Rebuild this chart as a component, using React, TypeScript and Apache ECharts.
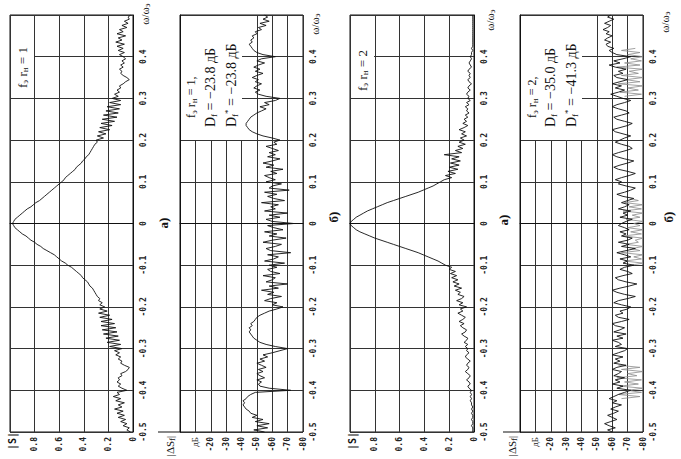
import React, { useEffect, useRef } from "react";
import * as echarts from "echarts";

// frequency grid ω/ωэ from -0.5 to 0.5, step 0.005 (201 samples)
const OMEGA_STEP = 0.005;
const OMEGA: number[] = Array.from({ length: 201 }, (_, i) => Math.round((-0.5 + i * OMEGA_STEP) * 1000) / 1000);

// а) |S|, fэ rн = 1
const S_R1: number[] = [
  0.02, 0.05, 0.03, 0.08, 0.05, 0.10, 0.06, 0.12, 0.07, 0.13, 0.08, 0.15, 0.09, 0.12, 0.07, 0.14, 0.10, 0.16, 0.11, 0.13,
  0.05, 0.09, 0.12, 0.10, 0.13, 0.11, 0.12, 0.09, 0.10, 0.06, 0.04, 0.03, 0.07, 0.10, 0.09, 0.12, 0.10, 0.14, 0.11, 0.15,
  0.09, 0.19, 0.10, 0.21, 0.11, 0.22, 0.12, 0.24, 0.13, 0.25, 0.14, 0.26, 0.15, 0.26, 0.17, 0.27, 0.19, 0.28, 0.21, 0.27,
  0.23, 0.27, 0.25, 0.28, 0.27, 0.29, 0.30, 0.31, 0.32, 0.33, 0.35, 0.36, 0.37, 0.39, 0.41, 0.42, 0.44, 0.46, 0.48, 0.50,
  0.53, 0.55, 0.58, 0.60, 0.62, 0.64, 0.67, 0.70, 0.73, 0.75, 0.78, 0.80, 0.83, 0.85, 0.87, 0.90, 0.92, 0.94, 0.96, 0.97,
  0.98,
  0.97, 0.96, 0.94, 0.92, 0.90, 0.88, 0.86, 0.83, 0.81, 0.79, 0.76, 0.74, 0.72, 0.70, 0.68, 0.66, 0.64, 0.62, 0.60, 0.58,
  0.56, 0.55, 0.53, 0.51, 0.49, 0.47, 0.46, 0.44, 0.42, 0.41, 0.39, 0.38, 0.36, 0.35, 0.34, 0.33, 0.32, 0.31, 0.29, 0.30,
  0.24, 0.29, 0.22, 0.28, 0.19, 0.27, 0.17, 0.26, 0.15, 0.25, 0.13, 0.24, 0.12, 0.22, 0.11, 0.21, 0.10, 0.19, 0.10, 0.17,
  0.12, 0.15, 0.11, 0.13, 0.10, 0.11, 0.08, 0.06, 0.03, 0.05, 0.08, 0.10, 0.09, 0.11, 0.08, 0.10, 0.07, 0.09, 0.06, 0.08,
  0.11, 0.07, 0.12, 0.08, 0.13, 0.07, 0.14, 0.09, 0.12, 0.06, 0.13, 0.08, 0.11, 0.05, 0.09, 0.04, 0.07, 0.03, 0.04, 0.02,
];

// б) |ΔS| dB, fэ rн = 1
const DB_R1: number[] = [
  -55, -48, -57, -50, -58, -49, -54, -47, -50, -46, -45, -43, -42, -41, -42, -41, -43, -44, -46, -49,
  -72, -58, -52, -51, -53, -50, -55, -52, -50, -54, -51, -56, -53, -50, -55, -52, -57, -54, -60, -65,
  -70, -62, -56, -52, -50, -48, -47, -46, -45, -46, -45, -47, -46, -48, -49, -50, -52, -55, -58, -63,
  -67, -60, -63, -55, -59, -66, -57, -61, -53, -64, -58, -70, -56, -60, -62, -54, -65, -59, -57, -63,
  -58, -68, -55, -61, -64, -57, -72, -59, -56, -62, -66, -54, -60, -69, -58, -63, -55, -67, -61, -57,
  -74,
  -60, -56, -65, -58, -70, -55, -62, -59, -64, -53, -68, -61, -57, -63, -55, -71, -58, -60, -66, -56,
  -62, -58, -55, -63, -59, -67, -56, -61, -54, -60, -65, -57, -62, -58, -64, -60, -56, -63, -61, -65,
  -60, -54, -50, -47, -45, -44, -43, -43, -44, -45, -46, -48, -50, -53, -56, -52, -58, -55, -62, -65,
  -56, -51, -49, -52, -48, -50, -53, -49, -51, -47, -50, -54, -49, -52, -48, -51, -55, -50, -53, -62,
  -54, -50, -48, -47, -46, -45, -47, -46, -48, -47, -50, -49, -53, -51, -56, -52, -58, -54, -57, -55,
];

// а) |S|, fэ rн = 2
const S_R2: number[] = [
  0.01, 0.01, 0.01, 0.02, 0.01, 0.01, 0.02, 0.01, 0.01, 0.02, 0.01, 0.02, 0.01, 0.02, 0.02, 0.03, 0.02, 0.03, 0.02, 0.03,
  0.02, 0.04, 0.05, 0.03, 0.04, 0.06, 0.04, 0.03, 0.05, 0.07, 0.05, 0.04, 0.06, 0.05, 0.03, 0.05, 0.07, 0.06, 0.04, 0.06,
  0.05, 0.07, 0.05, 0.08, 0.06, 0.05, 0.08, 0.10, 0.07, 0.06, 0.09, 0.11, 0.08, 0.12, 0.09, 0.07, 0.10, 0.13, 0.09, 0.11,
  0.06, 0.12, 0.09, 0.14, 0.10, 0.08, 0.13, 0.11, 0.15, 0.10, 0.16, 0.12, 0.17, 0.13, 0.18, 0.14, 0.19, 0.15, 0.20, 0.18,
  0.23, 0.26, 0.29, 0.33, 0.37, 0.41, 0.45, 0.50, 0.55, 0.60, 0.65, 0.70, 0.75, 0.80, 0.84, 0.88, 0.92, 0.95, 0.97, 0.99,
  1.0,
  0.99, 0.97, 0.95, 0.92, 0.89, 0.86, 0.82, 0.78, 0.74, 0.70, 0.65, 0.60, 0.55, 0.50, 0.45, 0.41, 0.37, 0.33, 0.30, 0.27,
  0.24, 0.18, 0.23, 0.15, 0.21, 0.13, 0.20, 0.12, 0.19, 0.11, 0.18, 0.12, 0.24, 0.10, 0.15, 0.09, 0.13, 0.07, 0.12, 0.08,
  0.11, 0.06, 0.10, 0.07, 0.12, 0.08, 0.05, 0.09, 0.06, 0.08, 0.05, 0.07, 0.04, 0.06, 0.05, 0.07, 0.04, 0.06, 0.03, 0.05,
  0.04, 0.06, 0.05, 0.03, 0.05, 0.04, 0.02, 0.04, 0.05, 0.03, 0.04, 0.03, 0.05, 0.04, 0.02, 0.03, 0.04, 0.03, 0.02, 0.03,
  0.02, 0.02, 0.01, 0.02, 0.01, 0.01, 0.01, 0.01, 0.01, 0.01, 0.01, 0.01, 0.01, 0.01, 0.01, 0.01, 0.01, 0.01, 0.01, 0.01,
];

// б) |ΔS| dB, fэ rн = 2 (black trace)
const DB_R2: number[] = [
  -60, -57, -62, -58, -55, -59, -63, -60, -57, -61, -64, -59, -62, -66, -60, -63, -58, -61, -64, -68,
  -72, -63, -67, -60, -65, -62, -68, -61, -64, -66, -60, -63, -69, -61, -65, -62, -67, -60, -64, -68,
  -70, -62, -66, -64, -60, -67, -63, -69, -61, -65, -68, -62, -60, -66, -71, -64, -62, -67, -65, -70,
  -72, -66, -61, -64, -70, -75, -68, -63, -60, -65, -71, -76, -69, -64, -62, -67, -73, -70, -65, -68,
  -74, -67, -70, -65, -72, -68, -63, -69, -75, -66, -71, -64, -70, -73, -66, -69, -65, -71, -68, -64,
  -66,
  -69, -73, -65, -70, -67, -72, -64, -68, -71, -66, -70, -74, -67, -63, -68, -72, -75, -69, -64, -66,
  -62, -66, -71, -75, -70, -64, -61, -65, -70, -74, -68, -63, -60, -64, -69, -73, -71, -66, -62, -65,
  -68, -72, -67, -62, -60, -65, -70, -73, -68, -63, -61, -66, -71, -69, -64, -60, -63, -68, -72, -67,
  -63, -59, -64, -68, -62, -66, -60, -65, -70, -63, -61, -67, -64, -69, -62, -58, -65, -61, -67, -72,
  -63, -60, -58, -61, -57, -56, -59, -55, -57, -60, -56, -58, -54, -57, -59, -55, -58, -61, -57, -59,
];

// б) |ΔS| dB, fэ rн = 2 (grey trace, only where visible)
const _ = null;
const DB_R2_GREY: (number | null)[] = [
  _, _, _, _, _, _, _, _, _, _, _, _, _, _, _, _, -66, -78, -64, -79,
  -70, -80, -65, -77, -68, -79, -63, -76, -70, -80, -66, -78, -64, _, _, _, _, _, _, _,
  _, _, _, _, _, _, _, _, _, _, _, _, _, _, _, _, _, _, _, _,
  _, _, _, _, _, _, _, _, _, _, _, _, _, _, _, _, _, _, _, _,
  -72, -80, -68, -79, -74, -80, -66, -78, -73, -80, -69, -77, -75, -80, -67, -79, -72, -80, -70, -78,
  -74,
  -80, -69, -78, -73, -80, -67, -79, -71, -80, -68, -77, -72, _, _, _, _, _, _, _, _,
  _, _, _, _, _, _, _, _, _, _, _, _, _, _, _, _, _, _, _, _,
  _, _, _, _, _, _, _, _, _, _, _, _, _, _, _, _, _, _, _, _,
  -68, -79, -65, -77, -70, -80, -64, -78, -69, -80, -66, -77, -71, -80, -63, -78, -68, -79, -72, -80,
  -70, -78, -66, -75, _, _, _, _, _, _, _, _, _, _, _, _, _, _, _, _,
];

const S_AXIS = { min: 0, max: 1, interval: 0.2 };
const DB_AXIS = { min: -80, max: 0, interval: 10 };
const OMEGA_AXIS = { min: -0.5, max: 0.5, interval: 0.1 };

const PANEL_LETTERS = ["а)", "б)", "а)", "б)"];
const NOTES = [
  ["f{s|э} r{s|н} = 1"],
  ["f{s|э} r{s|н} = 1,", "D{s|f} = −23.8 дБ", "D{s|f}{t|*} = −23.8 дБ"],
  ["f{s|э} r{s|н} = 2"],
  ["f{s|э} r{s|н} = 2,", "D{s|f} = −35.0 дБ", "D{s|f}{t|*} = −41.3 дБ"],
];

const TOP = 15;
const HEIGHT = 417;
const PANELS = [
  { kind: "S", left: 10, width: 123, values: S_R1, grey: null as (number | null)[] | null },
  { kind: "dB", left: 180, width: 123, values: DB_R1, grey: null },
  { kind: "S", left: 350, width: 124, values: S_R2, grey: null },
  { kind: "dB", left: 520, width: 123, values: DB_R2, grey: DB_R2_GREY },
];

const MONO = "DejaVu Sans Mono";
const SERIF = "Liberation Serif";
const RICH = {
  s: { fontSize: 9, fontFamily: SERIF, verticalAlign: "bottom", lineHeight: 9, fill: "#111" },
  t: { fontSize: 9, fontFamily: SERIF, verticalAlign: "top", lineHeight: 9, fill: "#111" },
};

function rotText(x: number, y: number, text: string, fontSize: number, align: string, extra: any = {}) {
  return {
    type: "text",
    x,
    y,
    rotation: Math.PI / 2,
    z: 30,
    style: {
      text,
      fill: "#111",
      fontFamily: SERIF,
      fontSize,
      align,
      verticalAlign: "middle",
      textAlign: align,
      textVerticalAlign: "middle",
      lineHeight: fontSize + 2,
      rich: RICH,
      ...extra,
    },
  };
}

export default function App() {
  const ref = useRef<HTMLDivElement>(null);
  useEffect(() => {
    document.body.style.margin = "0";
    if (!ref.current) return;
    const chart = echarts.init(ref.current, null, { renderer: "svg" });

    const grid = PANELS.map((p) => ({
      left: p.left,
      top: TOP,
      width: p.width,
      height: HEIGHT,
      show: true,
      borderColor: "#111",
      borderWidth: 1,
      backgroundColor: "transparent",
    }));

    const splitLine = { show: true, lineStyle: { color: "#333", width: 1 } };
    const labelBase = {
      fontFamily: MONO,
      fontWeight: "bold",
      fontSize: 8,
      color: "#222",
      rotate: 90,
      showMinLabel: true,
      showMaxLabel: true,
      hideOverlap: false,
    };

    const xAxis = PANELS.map((p, i) => {
      const ax = p.kind === "S" ? S_AXIS : DB_AXIS;
      return {
        type: "value",
        gridIndex: i,
        min: ax.min,
        max: ax.max,
        interval: ax.interval,
        inverse: true,
        position: "bottom",
        axisLine: { show: true, lineStyle: { color: "#111", width: 1 } },
        axisTick: { show: false },
        splitLine,
        axisLabel: {
          ...labelBase,
          margin: 5,
          rich: { u: { fontFamily: SERIF, fontSize: 9, fontWeight: "normal", color: "#222" } },
          formatter: (v: number) => {
            if (p.kind === "S") {
              if (Math.abs(v - 1) < 1e-9) return "";
              if (Math.abs(v) < 1e-9) return "0";
              return v.toFixed(1);
            }
            if (Math.abs(v) < 1e-9) return "";
            if (Math.abs(v + 10) < 1e-9) return "{u|дБ}";
            return String(Math.round(v));
          },
        },
      };
    });

    const yAxis = PANELS.map((_p, i) => ({
      type: "value",
      gridIndex: i,
      min: OMEGA_AXIS.min,
      max: OMEGA_AXIS.max,
      interval: OMEGA_AXIS.interval,
      position: "right",
      axisLine: { show: true, lineStyle: { color: "#111", width: 1 } },
      axisTick: { show: false },
      splitLine,
      axisLabel: {
        ...labelBase,
        margin: 10,
        align: "center",
        verticalAlign: "middle",
        formatter: (v: number) => {
          if (Math.abs(v - 0.5) < 1e-9) return "";
          if (Math.abs(v) < 1e-9) return "0";
          return v.toFixed(1);
        },
      },
    }));

    const series: any[] = [];
    PANELS.forEach((p, i) => {
      if (p.grey) {
        series.push({
          type: "line",
          xAxisIndex: i,
          yAxisIndex: i,
          showSymbol: false,
          symbol: "none",
          silent: true,
          connectNulls: false,
          lineStyle: { color: "#8a8a8a", width: 0.8 },
          data: OMEGA.map((w, k) => [p.grey![k], w]),
          z: 4,
        });
      }
      series.push({
        type: "line",
        xAxisIndex: i,
        yAxisIndex: i,
        showSymbol: false,
        symbol: "none",
        silent: true,
        lineStyle: { color: "#111", width: 0.9 },
        data: OMEGA.map((w, k) => [p.values[k], w]),
        z: 5,
      });
    });

    const graphic: any[] = [];
    // white note boxes
    const boxes = [
      { x: 11, y: 16, w: 23, h: 82 },
      { x: 181, y: 16, w: 61, h: 124 },
      { x: 351, y: 16, w: 23, h: 82 },
      { x: 521, y: 16, w: 61, h: 124 },
    ];
    boxes.forEach((b) =>
      graphic.push({ type: "rect", shape: { x: b.x, y: b.y, width: b.w, height: b.h }, style: { fill: "#fff" }, z: 20 })
    );
    // notes
    graphic.push(rotText(22, 88, NOTES[0][0], 13, "left"));
    graphic.push(rotText(191, 118, NOTES[1][0], 12, "left"));
    graphic.push(rotText(210, 127, NOTES[1][1], 14, "left"));
    graphic.push(rotText(231, 127, NOTES[1][2], 14, "left"));
    graphic.push(rotText(362, 91, NOTES[2][0], 13, "left"));
    graphic.push(rotText(532, 118, NOTES[3][0], 12, "left"));
    graphic.push(rotText(550, 127, NOTES[3][1], 14, "left"));
    graphic.push(rotText(571, 127, NOTES[3][2], 14, "left"));

    // axis names
    graphic.push(rotText(12, 441, "|S|", 10, "center", { fontFamily: MONO, fontWeight: "bold" }));
    graphic.push(rotText(352, 441, "|S|", 10, "center", { fontFamily: MONO, fontWeight: "bold" }));
    graphic.push(rotText(170, 446, "|ΔS{s|f}|", 11, "center"));
    graphic.push(rotText(512, 446, "|ΔS{s|f}|", 11, "center"));
    [145, 315, 490, 665].forEach((x, i) =>
      graphic.push(rotText(x, [14, 24, 20, 22][i], "ω/ω{s|э}", 11, "center"))
    );
    // panel letters
    [
      [163, 223],
      [333, 217],
      [503, 220],
      [668, 217],
    ].forEach(([x, y], i) =>
      graphic.push(rotText(x, y, PANEL_LETTERS[i], 13, "center", { fontWeight: "bold" }))
    );
    // axis stubs
    graphic.push({ type: "line", shape: { x1: 158, y1: 432, x2: 180, y2: 432 }, style: { stroke: "#111", lineWidth: 1 }, z: 20 });
    graphic.push({ type: "line", shape: { x1: 503, y1: 432, x2: 520, y2: 432 }, style: { stroke: "#111", lineWidth: 1 }, z: 20 });

    chart.setOption({
      animation: false,
      backgroundColor: "#fff",
      grid,
      xAxis,
      yAxis,
      series,
      graphic,
    });
    return () => chart.dispose();
  }, []);
  return <div ref={ref} style={{ width: 681, height: 459 }} />;
}
